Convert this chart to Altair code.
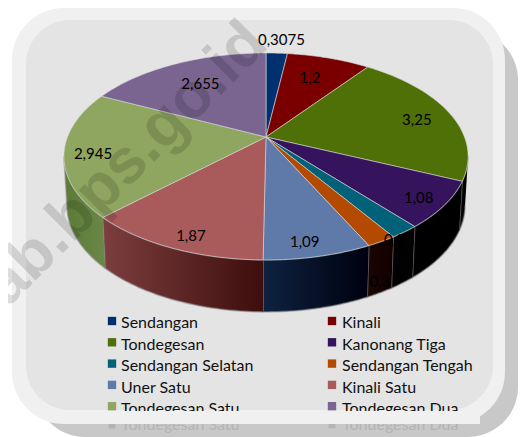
import altair as alt
import pandas as pd

names = ["Sendangan", "Kinali", "Tondegesan", "Kanonang Tiga", "Sendangan Selatan",
         "Sendangan Tengah", "Uner Satu", "Kinali Satu", "Tondegesan Satu", "Tondegesan Dua"]
values = [0.3075, 1.2, 3.25, 1.08, 0.3, 0.3, 1.09, 1.87, 2.945, 2.655]
colors = ["#003070", "#7a0000", "#4f7006", "#35135d", "#006178",
          "#b34a00", "#5f79a8", "#a95b5b", "#8ea65f", "#79658f"]
label_r = [1.19, 0.717, 0.817, 0.87, 0.8, 1.0, 0.88, 0.9, 0.86, 0.695]
label_dx = [3, -3, 0, 0, 7, 13, -6, 8, 0, 0]
label_dy = [0, 0, 3, 3, 72, -1, 3, 1, 3, 0]
walls = {
    "Tondegesan": ("#050505", "#000000"),
    "Kanonang Tiga": ("#000000", "#000000"),
    "Sendangan Selatan": ("#000000", "#030303"),
    "Sendangan Tengah": ("#1a0602", "#120000"),
    "Uner Satu": ("#0d2240", "#00000f"),
    "Kinali Satu": ("#7c3e3e", "#3e0d0d"),
    "Tondegesan Satu": ("#5b7a38", "#6b8845"),
}

W, H = 511, 429
FONT = "Lato"
df = pd.DataFrame({"name": names, "value": values, "idx": range(len(names)),
                   "color": colors, "lr": label_r, "ldx": label_dx, "ldy": label_dy})
df["label"] = [str(v).replace(".", ",") for v in values]

CX, CY, A, B, K = 266, 137, 198.5, 99.8, 0.188
TH_R, TH_L = 100.8 * 3.14159265 / 180, 259.2 * 3.14159265 / 180


def px(r, th):
    return f"{CX}+{A}*({r})*sin({th})/(1+{K}*({r})*cos({th}))"


def py(r, th):
    return f"{CY}-{B}*({r})*cos({th})/(1+{K}*({r})*cos({th}))"


X = alt.X("px:Q", scale=alt.Scale(domain=[8, 519], nice=False, zero=False), axis=None)
Y = alt.Y("py:Q", scale=alt.Scale(domain=[437, 8], nice=False, zero=False), axis=None)


def base():
    return (alt.Chart(df)
            .transform_joinaggregate(total="sum(value)")
            .transform_window(cum="sum(value)", sort=[alt.SortField("idx")])
            .transform_calculate(a0="(datum.cum-datum.value)/datum.total*2*PI",
                                 a1="datum.cum/datum.total*2*PI"))


def rect(x, x2, y, y2, color, radius=0):
    return alt.Chart(pd.DataFrame({"a": [0]})).mark_rect(cornerRadius=radius, color=color).encode(
        x=alt.value(x - 8), x2=alt.value(x2 - 8), y=alt.value(y - 8), y2=alt.value(y2 - 8))


layers = [
    rect(35, 518, 30, 437, "#c8c8c8", 50),
    rect(12, 505, 8, 424, "#f0f0f0", 52),
    rect(26, 493, 20, 410, "#e4e4e4", 44),
]

# side walls
for nm, (c0, c1) in walls.items():
    wall = (base().transform_filter(alt.datum.name == nm)
            .transform_calculate(ts=f"max(datum.a0,{TH_R})", te=f"min(datum.a1,{TH_L})", seq="sequence(0,82)")
            .transform_flatten(["seq"])
            .transform_calculate(k="datum.seq<=40?datum.seq/40:(81-min(datum.seq,81))/40",
                                 side="datum.seq<=40?0:1")
            .transform_calculate(th="datum.ts+(datum.te-datum.ts)*datum.k")
            .transform_calculate(tx=px("1", "datum.th"), ty=py("1", "datum.th"))
            .transform_calculate(px=f"datum.side?{CX}+(datum.tx-{CX})*0.985:datum.tx",
                                 py="datum.side?datum.ty+48-4*cos(datum.th):datum.ty"))
    grad = alt.Gradient(gradient="linear", x1=0, x2=1, y1=0, y2=0,
                        stops=[alt.GradientStop(color=c0, offset=0), alt.GradientStop(color=c1, offset=1)])
    layers.append(wall.mark_line(stroke="#8a8a8a", strokeWidth=1.6, strokeOpacity=0.55, fill=grad, clip=False)
                  .encode(x=X, y=Y, order=alt.Order("seq:Q")))

# top face
top = (base().transform_calculate(seq="sequence(-1,42)")
       .transform_flatten(["seq"])
       .transform_calculate(r="(datum.seq<0||datum.seq>40)?0:1",
                            th="datum.a0+(datum.a1-datum.a0)*clamp(datum.seq,0,40)/40")
       .transform_calculate(px=px("datum.r", "datum.th"), py=py("datum.r", "datum.th")))
layers.append(top.mark_line(stroke="#d8d8d8", strokeWidth=0.8, strokeOpacity=0.75).encode(
    x=X, y=Y, order=alt.Order("seq:Q"),
    fill=alt.Fill("name:N", scale=alt.Scale(domain=names, range=colors), legend=None),
    detail="name:N"))

# watermark
layers.append(alt.Chart(pd.DataFrame({"t": ["kab.bps.go.id"]})).mark_text(
    angle=315, align="right", baseline="alphabetic", font="Liberation Sans", fontWeight="bold",
    fontSize=63, color="#000000", opacity=0.13).encode(
    x=alt.value(270 - 8), y=alt.value(46 - 8), text="t:N"))

# value labels
labels = (base().transform_calculate(mid="(datum.a0+datum.a1)/2")
          .transform_calculate(px=px("datum.lr", "datum.mid") + "+datum.ldx",
                               py=py("datum.lr", "datum.mid") + "+datum.ldy"))
layers.append(labels.mark_text(font=FONT, fontSize=15, color="#000000", baseline="middle").encode(
    x=X, y=Y, text="label:N"))

# legend
leg = (alt.Chart(df).transform_calculate(col="datum.idx%2", row="floor(datum.idx/2)")
       .transform_calculate(px="112+220*datum.col", py="321+21.3*datum.row",
                            tx="121+221*datum.col", ty="323+21.5*datum.row"))
layers.append(leg.mark_square(size=70, opacity=1).encode(
    x=X, y=Y, fill=alt.Fill("name:N", scale=alt.Scale(domain=names, range=colors), legend=None)))
layers.append(leg.transform_calculate(px="datum.tx", py="datum.ty")
              .mark_text(font=FONT, fontSize=16, align="left", baseline="middle", color="#111111")
              .encode(x=X, y=Y, text="name:N"))

# reflection under the frame
refl = leg.transform_filter("datum.row==4")
layers.append(refl.transform_calculate(py="425").mark_square(size=45, opacity=1, color="#b4b4b4").encode(x=X, y=Y))
layers.append(refl.transform_calculate(px="datum.tx", py="425")
              .mark_text(font=FONT, fontSize=16, align="left", baseline="middle", color="#b4b4b4")
              .encode(x=X, y=Y, text="name:N"))
layers.append(rect(90, 480, 411, 424, "#f0f0f0"))

chart = (alt.layer(*layers)
         .properties(width=W, height=H, padding=0, autosize=alt.AutoSizeParams(type="none"))
         .configure_view(stroke=None)
         .resolve_scale(x="shared", y="shared"))
chart.save("out.html", embed_options={"renderer": "svg", "actions": False})
